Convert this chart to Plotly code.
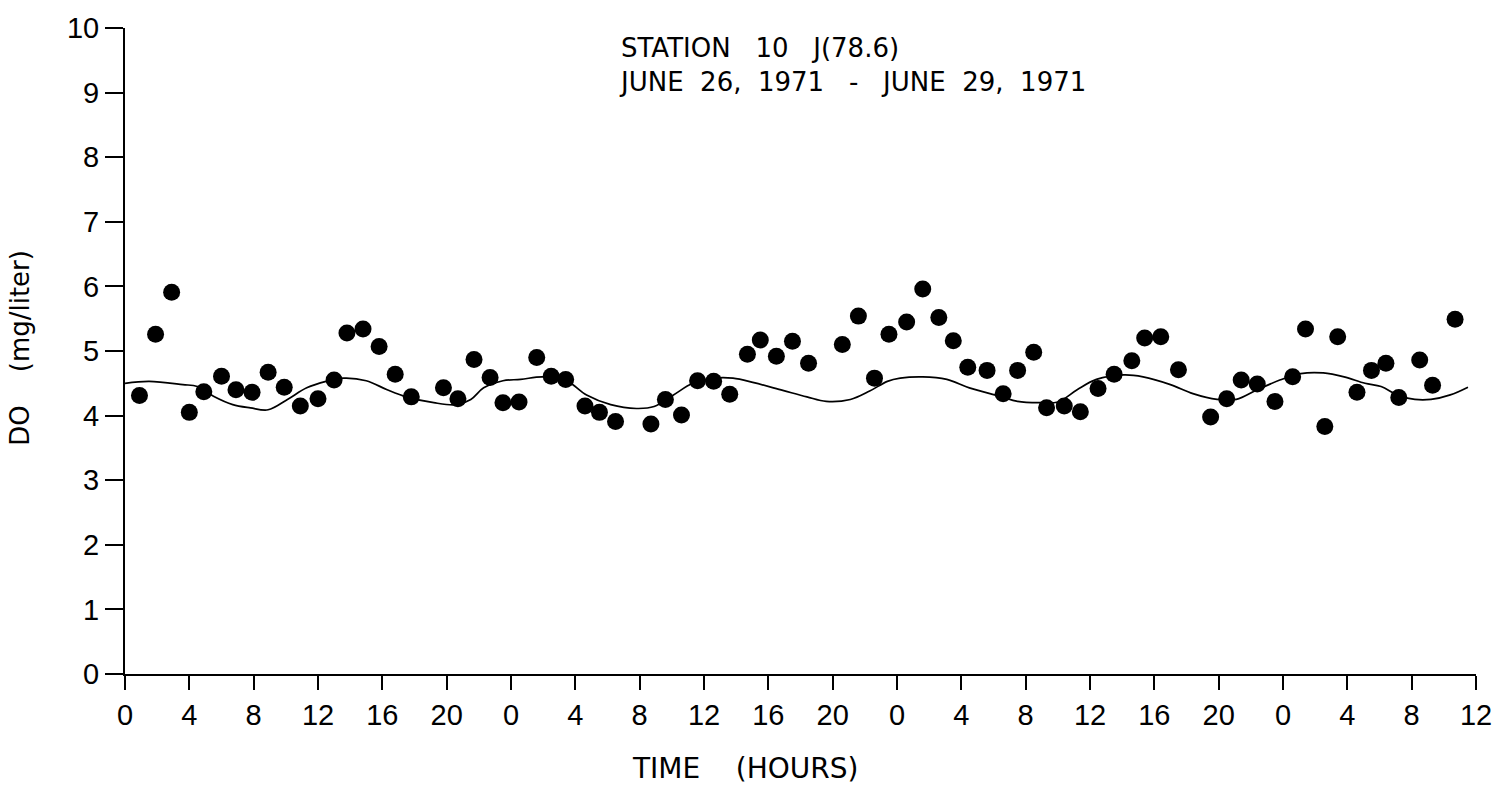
import plotly.graph_objects as go

# Observed dissolved oxygen (mg/liter) vs elapsed time (hours)
hours = [0.9, 1.9, 2.9, 4.0, 4.9, 6.0, 6.9, 7.9, 8.9, 9.9,
         10.9, 12.0, 13.0, 13.8, 14.8, 15.8, 16.8, 17.8, 19.8, 20.7,
         21.7, 22.7, 23.5, 24.5, 25.6, 26.5, 27.4, 28.6, 29.5, 30.5,
         32.7, 33.6, 34.6, 35.6, 36.6, 37.6, 38.7, 39.5, 40.5, 41.5,
         42.5, 44.6, 45.6, 46.6, 47.5, 48.6, 49.6, 50.6, 51.5, 52.4,
         53.6, 54.6, 55.5, 56.5, 57.3, 58.4, 59.4, 60.5, 61.5, 62.6,
         63.4, 64.4, 65.5, 67.5, 68.5, 69.4, 70.4, 71.5, 72.6, 73.4,
         74.6, 75.4, 76.6, 77.5, 78.4, 79.2, 80.5, 81.3, 82.7]
do_obs = [4.31, 5.26, 5.91, 4.05, 4.37, 4.61, 4.40, 4.36, 4.67, 4.44,
          4.15, 4.26, 4.55, 5.28, 5.34, 5.07, 4.64, 4.29, 4.43, 4.26,
          4.87, 4.59, 4.20, 4.21, 4.90, 4.61, 4.56, 4.15, 4.05, 3.91,
          3.87, 4.25, 4.01, 4.54, 4.53, 4.33, 4.95, 5.17, 4.92, 5.15,
          4.81, 5.10, 5.54, 4.58, 5.26, 5.45, 5.96, 5.52, 5.16, 4.75,
          4.70, 4.34, 4.70, 4.98, 4.12, 4.15, 4.06, 4.42, 4.64, 4.85,
          5.20, 5.22, 4.71, 3.98, 4.26, 4.55, 4.49, 4.22, 4.60, 5.34,
          3.83, 5.22, 4.36, 4.70, 4.81, 4.28, 4.86, 4.47, 5.49]

# Computed (model) curve
curve_t = [0, 1.5, 3.6, 4.5, 5.5, 6.7, 7.8, 8.9, 10.1, 11.3,
           12.5, 13.6, 15.0, 16.3, 17.5, 19.2, 20.6, 21.5, 22.3, 23.5,
           24.6, 26.0, 27.5, 28.7, 30.2, 31.8, 32.9, 34.1, 35.3, 36.6,
           37.8, 39.1, 40.9, 42.4, 43.6, 45.1, 46.3, 47.4, 48.2, 49.6,
           51.1, 52.5, 54.4, 55.5, 56.9, 58.0, 59.2, 60.4, 62.1, 63.3,
           65.0, 66.4, 67.9, 69.1, 70.4, 71.8, 73.1, 74.5, 75.8, 77.1,
           78.1, 79.1, 80.2, 81.2, 82.4, 83.5]
curve_do = [4.50, 4.53, 4.48, 4.45, 4.30, 4.17, 4.12, 4.09, 4.25, 4.43,
            4.53, 4.58, 4.54, 4.40, 4.29, 4.20, 4.17, 4.25, 4.43, 4.54,
            4.56, 4.60, 4.53, 4.32, 4.17, 4.11, 4.14, 4.32, 4.50, 4.58,
            4.58, 4.51, 4.39, 4.29, 4.22, 4.25, 4.38, 4.53, 4.58, 4.60,
            4.56, 4.43, 4.30, 4.22, 4.20, 4.21, 4.40, 4.56, 4.63, 4.60,
            4.48, 4.34, 4.25, 4.25, 4.40, 4.55, 4.65, 4.66, 4.60, 4.50,
            4.45, 4.32, 4.25, 4.25, 4.32, 4.44]

x_tickvals = list(range(0, 85, 4))
x_ticktext = ["0", "4", "8", "12", "16", "20", "0", "4", "8", "12", "16", "20",
              "0", "4", "8", "12", "16", "20", "0", "4", "8", "12"]
y_tickvals = list(range(0, 11))
y_ticktext = ["0", "1", "2", "3", "4", "5", "6", "7", "8", "9", "10"]

title_lines = ["STATION\u00a0\u00a0 10\u00a0\u00a0 J(78.6)",
               "JUNE\u00a0 26,\u00a0 1971\u00a0\u00a0 -\u00a0\u00a0 JUNE\u00a0 29,\u00a0 1971"]

TICKFONT = "Liberation Sans"
TEXTFONT = "DejaVu Sans"

fig = go.Figure()
fig.add_trace(go.Scatter(x=curve_t, y=curve_do, mode="lines",
                         line=dict(color="black", width=1.7, shape="spline", smoothing=1.0),
                         showlegend=False, hoverinfo="skip"))
fig.add_trace(go.Scatter(x=hours, y=do_obs, mode="markers",
                         marker=dict(color="black", size=17, line=dict(width=0)),
                         showlegend=False))

fig.update_layout(
    width=1504, height=787, autosize=False,
    margin=dict(l=125, r=28, t=20, b=113),
    paper_bgcolor="white", plot_bgcolor="white",
    font=dict(family=TICKFONT, color="black"),
    xaxis=dict(range=[0, 84], tickmode="array", tickvals=x_tickvals, ticktext=x_ticktext,
               ticks="outside", ticklen=14, tickwidth=1.5, tickcolor="black",
               showline=True, linewidth=2, linecolor="black", showgrid=False, zeroline=False,
               tickfont=dict(size=29, family=TICKFONT, color="black")),
    yaxis=dict(range=[0, 10], tickmode="array", tickvals=y_tickvals, ticktext=y_ticktext,
               ticks="outside", ticklen=18, tickwidth=1.5, tickcolor="black",
               showline=True, linewidth=2, linecolor="black", showgrid=False, zeroline=False,
               tickfont=dict(size=29, family=TICKFONT, color="black")),
    annotations=[
        dict(text="TIME\u00a0\u00a0\u00a0 (HOURS)", xref="paper", yref="paper",
             x=0.459, y=-0.147, xanchor="center", yanchor="middle", showarrow=False,
             font=dict(size=28, family=TEXTFONT, color="black")),
        dict(text="DO\u00a0\u00a0\u00a0 (mg/liter)", xref="paper", yref="paper",
             x=-0.0777, y=0.505, xanchor="center", yanchor="middle", showarrow=False,
             textangle=-90, font=dict(size=26, family=TEXTFONT, color="black")),
        dict(text="<br>".join(title_lines), xref="paper", yref="paper",
             x=0.364, y=0.943, xanchor="left", yanchor="middle", align="left",
             showarrow=False, font=dict(size=26, family=TEXTFONT, color="black")),
    ],
)

fig.write_html("out.html")
